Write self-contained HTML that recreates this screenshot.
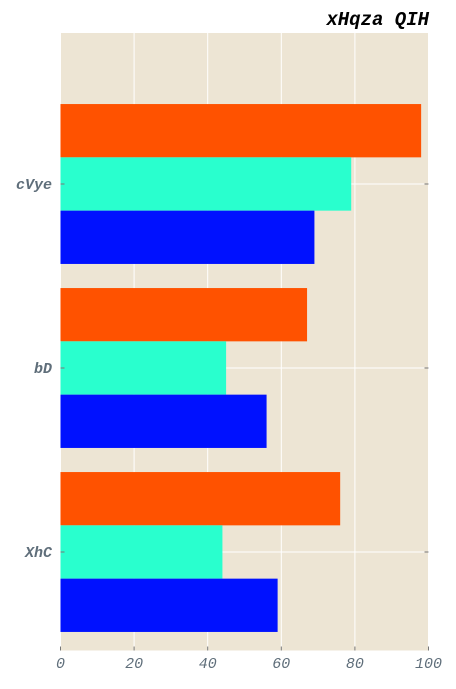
<!DOCTYPE html>
<html><head><meta charset="utf-8"><style>
body{margin:0;background:#fff;}
svg text{font-family:"Liberation Mono",monospace;font-style:italic;}
</style></head><body>
<svg id="chart" width="456" height="684" xmlns="http://www.w3.org/2000/svg">
<text x="429" y="25" text-anchor="end" font-size="19" font-weight="bold" fill="#000">xHqza QIH</text>
</svg>
<script>
const categories=["XhC","bD","cVye"];
const seriesBlue=[59,56,69];
const seriesCyan=[44,45,79];
const seriesOrange=[76,67,98];
const xTicks=[0,20,40,60,80,100];
const colors=["#0011ff","#29ffce","#ff5200"];
const L=60.5,R=428.5,T=33,B=650.5;
const NS="http://www.w3.org/2000/svg";
const svg=document.getElementById('chart');
const xs=v=>L+(v/100)*(R-L);
const yc=i=>552-184*i;
const bh=53.3;
function mk(tag,attrs,parent){const e=document.createElementNS(NS,tag);for(const k in attrs)e.setAttribute(k,attrs[k]);(parent||svg).appendChild(e);return e;}
const bg=mk('rect',{x:L,y:T,width:R-L,height:B-T,fill:"#ede5d4"});


xTicks.forEach(t=>{
 const g=mk('line',{x1:xs(t),x2:xs(t),y1:T,y2:B,stroke:"#fff","stroke-width":1});
 
 
 const tk=mk('line',{x1:xs(t),x2:xs(t),y1:B-4,y2:B,stroke:"#777"});
 
 
 const lb=mk('text',{x:xs(t),y:668,"text-anchor":"middle","font-size":15,fill:"#5f6e7a"});
 lb.textContent=t;
 
 
});
categories.forEach((c,i)=>{
 const g=mk('line',{x1:L,x2:R,y1:yc(i),y2:yc(i),stroke:"#fff"});
 
 
 [[seriesOrange,2,-1.5],[seriesCyan,1,-0.5],[seriesBlue,0,0.5]].forEach(([s,ci,off])=>{
  const r=mk('rect',{x:L,y:yc(i)+off*bh,width:xs(s[i])-L,height:bh,fill:colors[ci]});
  
  
 });
 const tk1=mk('line',{x1:L,x2:L+4,y1:yc(i),y2:yc(i),stroke:"#777"});
 
 
 const tk2=mk('line',{x1:R-4,x2:R,y1:yc(i),y2:yc(i),stroke:"#777"});
 
 
 const lb=mk('text',{x:52,y:yc(i)+5,"text-anchor":"end","font-size":15,"font-weight":"bold",fill:"#5f6e7a"});
 lb.textContent=c;
 
 
});
</script>
</body></html>
